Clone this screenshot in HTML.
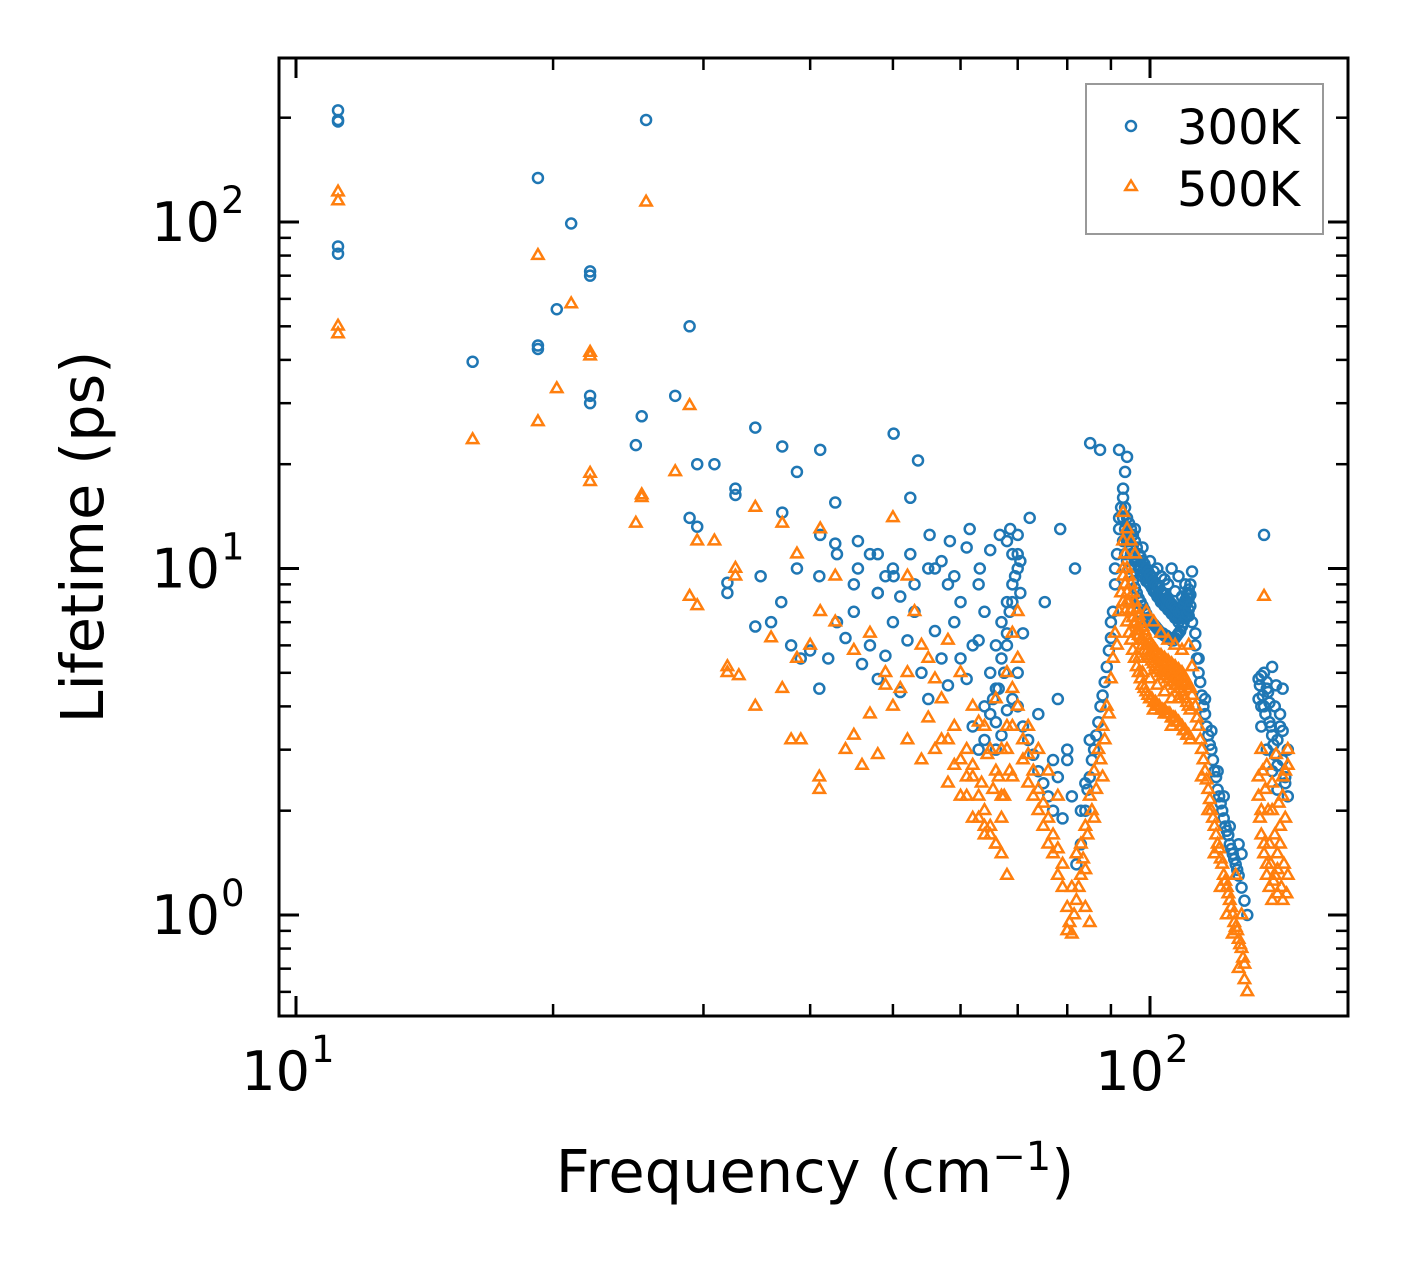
<!DOCTYPE html>
<html><head><meta charset="utf-8"><style>
html,body{margin:0;padding:0;background:#fff;}
svg{display:block;font-family:"DejaVu Sans","Liberation Sans",sans-serif;}
</style></head><body>
<svg id="chart" width="1408" height="1265" viewBox="0 0 1408 1265">
<g id="marks"></g>
<g id="axes"></g>
</svg>
<script>
const freq300=[11.2,11.2,11.2,11.2,11.2,16.1,19.2,19.2,19.2,21.0,20.2,22.1,22.1,22.1,22.1,25.7,25.0,25.4,27.8,28.9,28.9,29.5,29.5,30.9,32,32,32.7,32.7,34.5,34.5,37.1,37.1,38.6,38.6,41.1,41.1,42.8,42.8,45.5,45.5,48,48,50.1,50.1,52.4,52.4,53.5,55.2,58.3,61.5,63.2,66.7,68.6,70.5,72.3,75.3,78.5,81.7,85.1,87.4,
82,83,84,85,86,87,88,89,90,90.5,91,91.5,92,92.5,93,93.5,92,94,
94,95,96,97,98,99,100,101,102,103,104,105,106,107,108,109,110,111,112,95,97,99,101,103,105,107,109,111,96,98,100,102,104,106,108,110,112,113,
113,114,115,116,117,118,119,120,121,122,123,124,125,126,127,128,129,127,128,130,
134,135,136,137,138,139,140,141,142,143,144,145,135,137,139,141,143,145,136,
70,71,72,73,74,75,76,77,78,79,80,81,74,77,78,80,
62,63,64,65,66,66,67,68,68,69,69,70,70,68,64,62,60,58,56,
35,36,37,38,39,40,41,42,43,44,45,46,47,48,49,50,51,52,53,54,55,56,57,58,59,60,61,63,41,43,45,47,49,51,53,55,57,59,61,63,65,48,50];
const life300=[210,197,195,85,81,39.5,134,44,43,99,56,72,70,31.5,30,197,22.7,27.5,31.5,50,14,20,13.2,20,8.5,9.1,17,16.3,25.5,6.8,22.5,14.5,19,10,22,12.5,11.8,15.5,10,12,11,8.5,24.5,9.5,16,11,20.5,12.5,12,13,10,12.5,13,10.5,14,8,13,10,23,22,
1.4,1.6,2.0,2.5,3.0,3.6,4.3,5.2,6.3,7.5,9,11,13,15,17,19,22,21,
12,11,10.5,10,9.5,9.2,9,8.6,8.3,8,7.8,7.6,7.4,7.2,7,7.2,7.5,7.3,7,8,7.5,7,9.8,9.5,9,8.6,8.3,8.5,13,11.5,10.5,10,9.3,10,9.5,9,9.8,6.5,
6,5,4.3,3.8,3.3,3,2.6,2.3,2.1,1.9,1.75,1.6,1.5,1.4,1.3,1.2,1.1,1.6,1.5,1.0,
4.8,4,5,4.5,3.6,5.2,4,3.2,3.5,2.8,2.5,2.2,3.5,3,2.6,2.3,4.5,3,12.5,
4,3.5,3.2,2.9,2.6,2.4,2.2,2.0,2.5,1.9,2.8,2.2,3.8,2.8,4.2,3,
3.5,3,4,5,4.5,6,7,8,6,9,11,12.5,10,12,7.5,6,8,9,10,
9.5,7,8,6,5.5,5.8,4.5,5.5,7,6.3,7.5,5.3,6,4.8,5.6,7,4.4,6.2,7.5,5,4.2,6.6,5.5,4.6,7,5.5,4.8,6.2,9.5,11,9,11,9.5,8.3,9,10,10.5,9.5,11.5,9,11.3,8.5,10];
const plateauFreq=[93,93.5,94,94.5,95,95.5,96,96.5,97,97.5,98,98.5,99,99.5,100,100.5,101,101.5,102,102.5,103,103.5,104,104.5,105,105.5,106,106.5,107,107.5,108,108.5,109,109.5,110,110.5,111,111.5];
const plateau300a=[14,13,12.5,12,11.5,11,10.8,10.5,10.2,10,9.8,9.6,9.4,9.2,9,8.8,8.7,8.5,8.4,8.2,8.1,8,7.9,7.8,7.7,7.6,7.5,7.4,7.3,7.3,7.2,7.2,7.4,7.6,7.8,8,8.2,8.4];
const plateau300b=[16,15,14,13.5,13,12.5,12,11.5,11,10.8,10.5,10.3,10,9.8,9.6,9.4,9.2,9,8.9,8.8,8.6,8.5,8.4,8.2,8.1,8,7.9,7.8,7.7,7.6,7.5,7.5,7.7,7.9,8.1,8.4,8.7,9];
const plateau300c=[12,11,10.5,10,9.6,9.2,8.8,8.5,8.2,8,7.8,7.6,7.4,7.2,7.1,7,6.9,6.8,6.7,6.6,6.5,6.5,6.4,6.4,6.3,6.3,6.2,6.2,6.3,6.4,6.5,6.6,6.8,7,7.2,7.4,7.6,7.8];
const extraFreq300=[84.5,85.5,86.5,87.5,88.5,89.5,90,91,92,83,84,85,
113.5,114.5,115.5,116.5,117.5,118.5,119.5,120.5,121.5,122.5,123.5,124.5,125.5,126.5,114,116,118,120,122,124,
134,134.5,135,135.5,136,136.5,137,137.5,138,138.5,139,139.5,140,140.5,141,142,143,144,
64,65,65.5,66,66.5,67,67.5,68,68.5,69,69.5,70,70.5,71,66,67,68,69,70];
const extraLife300=[2.3,2.8,3.3,4,4.7,5.8,7,10,14,2.0,2.4,3.2,
5.5,4.7,4.0,3.5,3.1,2.8,2.5,2.2,2.0,1.8,1.7,1.55,1.45,1.35,5.5,4.2,3.4,2.6,2.2,1.8,
4.2,4.6,4.9,4.3,4.0,3.8,4.7,4.4,4.1,3.5,3.3,3.1,2.9,4.6,2.7,3.8,3.4,2.4,
3.2,3.8,4.2,3.6,4.5,5.5,5,6.5,7.5,8,9.5,11,8.5,6.5,3,3.3,3.9,4.2,5];

const freq500=[11.2,11.2,11.2,11.2,16.1,19.2,19.2,21,20.2,22.1,22.1,22.1,22.1,25.7,25,25.4,25.4,27.8,28.9,28.9,29.5,29.5,30.9,32,32,32.7,32.7,34.5,34.5,37.1,37.1,38.6,38.6,41.1,41.1,42.8,42.8,36,39,40,44,46,48,50,52,33,38,41,41,45,47,49,
45,47,49,51,53,55,57,59,61,62,63,64,65,66,67,68,52,54,56,58,60,62,64,66,67,68,69,70,69,70,68,67,69,71,72,73,74,75,76,72,74,76,78,50,52,54,56,58,60,62,64,66,55,57,59,61,63,65,
77,78,79,80,80,81,82,83,84,85,83,84,85,86,87,88,89,90,90.5,91,92,92.5,93,93.5,94,95,93,96,
94,95,96,97,98,99,100,101,102,103,104,105,106,107,108,109,110,111,112,98,100,102,104,106,108,99,101,103,105,107,109,111,112,100,104,97,101,106,
113,114,115,116,117,118,119,120,121,122,123,124,125,126,127,128,129,129,130,126,128,
134,135,136,137,138,139,140,141,142,143,144,145,135,137,139,141,143,145,136];
const life500=[122,115,50,47.5,23.5,80,26.5,58,33,42,41,18.8,17.8,114,13.5,16,16.3,19,29.5,8.3,12,7.8,12,5.2,5.0,10,9.5,15,4.0,13.5,4.5,11,5.5,13,7.5,7,9.5,6.3,3.2,6,3,2.7,2.9,14,9.5,4.9,3.2,2.5,2.3,3.3,3.8,4.6,
5.8,6.5,5,4.5,7.5,5.5,4.2,3.5,3,2.5,2.2,2,1.8,1.6,1.5,1.3,3.2,2.8,3,2.4,2.2,1.9,1.7,2.6,3,3.5,4.5,5.5,6.5,7.5,5,2.2,2.5,2.8,2.4,2.2,2,1.8,1.6,3.5,3,2.6,2.2,4,5,6,4.8,6.2,5,4,3.5,4.2,3.7,3.2,2.7,2.5,3.6,3,
1.5,1.3,1.2,1.05,0.9,0.88,1.1,1.3,1.05,0.95,1.6,1.8,2.2,2.6,3,3.5,4,4.8,5.5,6.5,7.5,8.5,9.5,11,13,12,14.5,11,
8,7.5,7,6.6,6.2,6,5.7,5.5,5.3,5.2,5,5.1,5,4.9,4.8,4.7,4.6,4.5,4.3,5,4.8,4.6,4.4,4.2,4.2,7.5,7,6.5,6.2,6,5.8,6,5.2,4.2,3.8,5.5,3.9,3.5,
4,3.5,3,2.6,2.3,2,1.8,1.6,1.45,1.3,1.2,1.1,1,0.92,0.85,0.8,0.72,0.65,0.6,1.3,1.0,
2.5,2,1.6,1.4,1.2,1.1,1.3,1.5,1.8,2.2,2.6,3,3,2.7,2,1.15,1.1,1.3,8.3];
const plateau500a=[10,9,8.5,8,7.6,7.2,6.9,6.6,6.4,6.2,6,5.8,5.7,5.6,5.5,5.4,5.3,5.2,5.1,5.1,5,5,4.9,4.9,4.8,4.8,4.7,4.7,4.6,4.6,4.5,4.5,4.4,4.3,4.2,4.1,4,3.9];
const plateau500b=[12,11,10,9.5,9,8.5,8,7.6,7.3,7,6.8,6.6,6.4,6.2,6.1,6,5.9,5.8,5.7,5.6,5.6,5.5,5.5,5.4,5.4,5.3,5.3,5.2,5.2,5.1,5.1,5,5,4.9,4.8,4.7,4.6,4.5];
const plateau500c=[8,7.5,7,6.5,6.2,5.8,5.5,5.2,5,4.8,4.6,4.5,4.4,4.3,4.2,4.2,4.1,4.1,4,4,3.9,3.9,3.9,3.8,3.8,3.8,3.7,3.7,3.7,3.6,3.6,3.5,3.5,3.4,3.4,3.3,3.3,3.2];
const extraFreq500=[80.5,81.5,82.5,83.5,84.5,85.5,86.5,87.5,88.5,89.5,91.5,81,82,84,86,88,
113.5,114.5,115.5,116.5,117.5,118.5,119.5,120.5,121.5,122.5,123.5,124.5,125.5,126.5,127.5,128.5,115,117,119,121,123,125,127,
134,134.5,135,135.5,136,136.5,137,137.5,138,138.5,139,139.5,140,140.5,141,141.5,142,142.5,143,143.5,144,144.5,145,
58,60,61,62,63,63.5,64,64.5,65,65.5,66,66.5,67,67.5,68,68.5,69,70,71,72,73,74,75,76,77,78,79];
const extraLife500=[0.95,1.0,1.2,1.45,1.7,2.0,2.3,2.8,3.2,3.8,6,1.2,1.5,1.35,1.9,2.5,
3.7,3.2,2.8,2.45,2.15,1.9,1.7,1.55,1.4,1.25,1.15,1.05,0.95,0.9,0.82,0.75,2.5,2.0,1.5,1.2,1.0,0.88,0.7,
2.2,1.9,1.7,2.6,1.5,2.3,1.3,2.0,1.6,1.4,2.4,1.25,1.7,2.9,1.35,2.1,1.6,1.2,2.5,1.4,1.9,1.15,2.7,
3.2,2.8,2.2,2.7,1.9,2.4,1.8,2.9,1.7,2.3,1.6,2.5,1.9,2.2,3,2.6,3.5,4,3.2,2.9,2.6,2.3,2.1,1.9,1.7,1.55,1.4];

const xTickVals=[10,100];
const xTickLabels=["10","10"];
const tickExps=["1","2"];
const yTickVals=[1,10,100];
const yTickLabels=["10","10","10"];
const yExps=["0","1","2"];

const NS="http://www.w3.org/2000/svg";
const L=279,R=1348,T=58,B=1016;
const X0=296,XD=854, Y0=222, YD=346.5;
function xs(f){return X0+XD*(Math.log10(f)-1);}
function ys(t){return Y0-YD*(Math.log10(t)-2);}
function mk(tag,attrs,parent){const e=document.createElementNS(NS,tag);for(const k in attrs)e.setAttribute(k,attrs[k]);parent.appendChild(e);return e;}
const marks=document.getElementById('marks');
const axes=document.getElementById('axes');
const blue="#1f77b4",orange="#ff7f0e";
function tri(cx,cy){const r=6.5;return `${cx},${cy-r} ${cx-r*0.87},${cy+r*0.5} ${cx+r*0.87},${cy+r*0.5}`;}
const F300=freq300.concat(plateauFreq,plateauFreq,plateauFreq,extraFreq300);
const V300=life300.concat(plateau300a,plateau300b,plateau300c,extraLife300);
const F500=freq500.concat(plateauFreq,plateauFreq,plateauFreq,extraFreq500);
const V500=life500.concat(plateau500a,plateau500b,plateau500c,extraLife500);
for(let i=0;i<F300.length;i++){
  const c=mk('circle',{cx:xs(F300[i]),cy:ys(V300[i]),r:5,fill:'none',stroke:blue,'stroke-width':2.5},marks);
  
  
}
for(let i=0;i<F500.length;i++){
  const p=mk('polygon',{points:tri(xs(F500[i]),ys(V500[i])),fill:'none',stroke:orange,'stroke-width':2.5},marks);
  
  
}
const fr=mk('rect',{x:L,y:T,width:R-L,height:B-T,fill:'none',stroke:'#000','stroke-width':3},axes);


for(let d=1;d<=100;d*=10){for(let k=1;k<10;k++){const x=xs(d*k);if(x<L||x>R)continue;const maj=k===1;const len=maj?20:12;
 mk('line',{x1:x,y1:B,x2:x,y2:B-len,stroke:'#000','stroke-width':maj?3:2.5},axes);
 mk('line',{x1:x,y1:T,x2:x,y2:T+len,stroke:'#000','stroke-width':maj?3:2.5},axes);}}
for(let d=0.1;d<=100;d*=10){for(let k=1;k<10;k++){const y=ys(d*k);if(y<T||y>B)continue;const maj=k===1;const len=maj?20:12;
 mk('line',{x1:L,y1:y,x2:L+len,y2:y,stroke:'#000','stroke-width':maj?3:2.5},axes);
 mk('line',{x1:R,y1:y,x2:R-len,y2:y,stroke:'#000','stroke-width':maj?3:2.5},axes);}}
xTickVals.forEach((v,i)=>{const t=mk('text',{x:xs(v)+14,y:1090,'font-size':54,'text-anchor':'end'},axes);t.textContent=xTickLabels[i];
 
 
 const s=mk('text',{x:xs(v)+15,y:1062,'font-size':37},axes);s.textContent=tickExps[i];});
yTickVals.forEach((v,i)=>{const t=mk('text',{x:220,y:ys(v)+19,'font-size':54,'text-anchor':'end'},axes);t.textContent=yTickLabels[i];
 
 
 const s=mk('text',{x:221,y:ys(v)-9,'font-size':37},axes);s.textContent=yExps[i];});
</script>
<svg style="position:absolute;left:0;top:0" width="1408" height="1265">
<text x="815" y="1192" font-size="59" text-anchor="middle" font-family="DejaVu Sans, Liberation Sans, sans-serif">Frequency (cm<tspan dy="-22" font-size="40">−1</tspan><tspan dy="22">)</tspan></text>
<text transform="translate(103,537) rotate(-90)" font-size="59" text-anchor="middle" font-family="DejaVu Sans, Liberation Sans, sans-serif">Lifetime (ps)</text>
<g>
<rect x="1086" y="84" width="237" height="150" fill="#fff" stroke="#999" stroke-width="2"/>
<circle cx="1131" cy="126" r="5" fill="none" stroke="#1f77b4" stroke-width="2.5"/>
<text x="1177" y="144" font-size="48" font-family="DejaVu Sans, Liberation Sans, sans-serif">300K</text>
<polygon points="1131,180.5 1125.3,190 1136.7,190" fill="none" stroke="#ff7f0e" stroke-width="2.5"/>
<text x="1177" y="206" font-size="48" font-family="DejaVu Sans, Liberation Sans, sans-serif">500K</text>
</g>
</svg>
</body></html>
